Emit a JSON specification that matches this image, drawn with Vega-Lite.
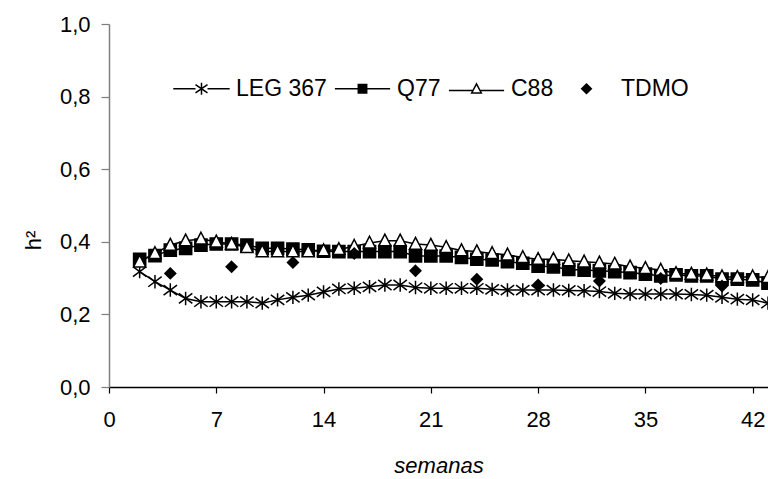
{
  "$schema": "https://vega.github.io/schema/vega-lite/v6.json",
  "width": 659,
  "height": 363,
  "autosize": {"type": "none"},
  "padding": {"left": 109, "top": 24, "right": 0, "bottom": 92},
  "background": "white",
  "config": {"view": {"stroke": null}, "font": "Liberation Sans"},
  "datasets": {
    "h2": [
      {"semana": 2, "serie": "LEG 367", "h2": 0.318}, {"semana": 3, "serie": "LEG 367", "h2": 0.290}, {"semana": 4, "serie": "LEG 367", "h2": 0.267}, {"semana": 5, "serie": "LEG 367", "h2": 0.244}, {"semana": 6, "serie": "LEG 367", "h2": 0.235}, {"semana": 7, "serie": "LEG 367", "h2": 0.235}, {"semana": 8, "serie": "LEG 367", "h2": 0.235}, {"semana": 9, "serie": "LEG 367", "h2": 0.235}, {"semana": 10, "serie": "LEG 367", "h2": 0.231}, {"semana": 11, "serie": "LEG 367", "h2": 0.240}, {"semana": 12, "serie": "LEG 367", "h2": 0.247}, {"semana": 13, "serie": "LEG 367", "h2": 0.253}, {"semana": 14, "serie": "LEG 367", "h2": 0.262}, {"semana": 15, "serie": "LEG 367", "h2": 0.270}, {"semana": 16, "serie": "LEG 367", "h2": 0.272}, {"semana": 17, "serie": "LEG 367", "h2": 0.276}, {"semana": 18, "serie": "LEG 367", "h2": 0.281}, {"semana": 19, "serie": "LEG 367", "h2": 0.281}, {"semana": 20, "serie": "LEG 367", "h2": 0.274}, {"semana": 21, "serie": "LEG 367", "h2": 0.272}, {"semana": 22, "serie": "LEG 367", "h2": 0.272}, {"semana": 23, "serie": "LEG 367", "h2": 0.272}, {"semana": 24, "serie": "LEG 367", "h2": 0.272}, {"semana": 25, "serie": "LEG 367", "h2": 0.269}, {"semana": 26, "serie": "LEG 367", "h2": 0.267}, {"semana": 27, "serie": "LEG 367", "h2": 0.267}, {"semana": 28, "serie": "LEG 367", "h2": 0.267}, {"semana": 29, "serie": "LEG 367", "h2": 0.267}, {"semana": 30, "serie": "LEG 367", "h2": 0.266}, {"semana": 31, "serie": "LEG 367", "h2": 0.265}, {"semana": 32, "serie": "LEG 367", "h2": 0.263}, {"semana": 33, "serie": "LEG 367", "h2": 0.258}, {"semana": 34, "serie": "LEG 367", "h2": 0.256}, {"semana": 35, "serie": "LEG 367", "h2": 0.256}, {"semana": 36, "serie": "LEG 367", "h2": 0.256}, {"semana": 37, "serie": "LEG 367", "h2": 0.256}, {"semana": 38, "serie": "LEG 367", "h2": 0.255}, {"semana": 39, "serie": "LEG 367", "h2": 0.253}, {"semana": 40, "serie": "LEG 367", "h2": 0.247}, {"semana": 41, "serie": "LEG 367", "h2": 0.242}, {"semana": 42, "serie": "LEG 367", "h2": 0.240}, {"semana": 43, "serie": "LEG 367", "h2": 0.231},
      {"semana": 2, "serie": "Q77", "h2": 0.352}, {"semana": 3, "serie": "Q77", "h2": 0.362}, {"semana": 4, "serie": "Q77", "h2": 0.377}, {"semana": 5, "serie": "Q77", "h2": 0.382}, {"semana": 6, "serie": "Q77", "h2": 0.391}, {"semana": 7, "serie": "Q77", "h2": 0.394}, {"semana": 8, "serie": "Q77", "h2": 0.394}, {"semana": 9, "serie": "Q77", "h2": 0.391}, {"semana": 10, "serie": "Q77", "h2": 0.382}, {"semana": 11, "serie": "Q77", "h2": 0.382}, {"semana": 12, "serie": "Q77", "h2": 0.380}, {"semana": 13, "serie": "Q77", "h2": 0.378}, {"semana": 14, "serie": "Q77", "h2": 0.374}, {"semana": 15, "serie": "Q77", "h2": 0.373}, {"semana": 16, "serie": "Q77", "h2": 0.373}, {"semana": 17, "serie": "Q77", "h2": 0.373}, {"semana": 18, "serie": "Q77", "h2": 0.373}, {"semana": 19, "serie": "Q77", "h2": 0.373}, {"semana": 20, "serie": "Q77", "h2": 0.361}, {"semana": 21, "serie": "Q77", "h2": 0.361}, {"semana": 22, "serie": "Q77", "h2": 0.361}, {"semana": 23, "serie": "Q77", "h2": 0.357}, {"semana": 24, "serie": "Q77", "h2": 0.352}, {"semana": 25, "serie": "Q77", "h2": 0.350}, {"semana": 26, "serie": "Q77", "h2": 0.345}, {"semana": 27, "serie": "Q77", "h2": 0.341}, {"semana": 28, "serie": "Q77", "h2": 0.333}, {"semana": 29, "serie": "Q77", "h2": 0.331}, {"semana": 30, "serie": "Q77", "h2": 0.324}, {"semana": 31, "serie": "Q77", "h2": 0.322}, {"semana": 32, "serie": "Q77", "h2": 0.320}, {"semana": 33, "serie": "Q77", "h2": 0.318}, {"semana": 34, "serie": "Q77", "h2": 0.315}, {"semana": 35, "serie": "Q77", "h2": 0.311}, {"semana": 36, "serie": "Q77", "h2": 0.306}, {"semana": 37, "serie": "Q77", "h2": 0.309}, {"semana": 38, "serie": "Q77", "h2": 0.306}, {"semana": 39, "serie": "Q77", "h2": 0.306}, {"semana": 40, "serie": "Q77", "h2": 0.297}, {"semana": 41, "serie": "Q77", "h2": 0.297}, {"semana": 42, "serie": "Q77", "h2": 0.295}, {"semana": 43, "serie": "Q77", "h2": 0.286},
      {"semana": 2, "serie": "C88", "h2": 0.345}, {"semana": 3, "serie": "C88", "h2": 0.368}, {"semana": 4, "serie": "C88", "h2": 0.391}, {"semana": 5, "serie": "C88", "h2": 0.403}, {"semana": 6, "serie": "C88", "h2": 0.408}, {"semana": 7, "serie": "C88", "h2": 0.400}, {"semana": 8, "serie": "C88", "h2": 0.394}, {"semana": 9, "serie": "C88", "h2": 0.385}, {"semana": 10, "serie": "C88", "h2": 0.373}, {"semana": 11, "serie": "C88", "h2": 0.373}, {"semana": 12, "serie": "C88", "h2": 0.373}, {"semana": 13, "serie": "C88", "h2": 0.373}, {"semana": 14, "serie": "C88", "h2": 0.376}, {"semana": 15, "serie": "C88", "h2": 0.379}, {"semana": 16, "serie": "C88", "h2": 0.388}, {"semana": 17, "serie": "C88", "h2": 0.397}, {"semana": 18, "serie": "C88", "h2": 0.403}, {"semana": 19, "serie": "C88", "h2": 0.403}, {"semana": 20, "serie": "C88", "h2": 0.394}, {"semana": 21, "serie": "C88", "h2": 0.391}, {"semana": 22, "serie": "C88", "h2": 0.385}, {"semana": 23, "serie": "C88", "h2": 0.376}, {"semana": 24, "serie": "C88", "h2": 0.373}, {"semana": 25, "serie": "C88", "h2": 0.368}, {"semana": 26, "serie": "C88", "h2": 0.364}, {"semana": 27, "serie": "C88", "h2": 0.357}, {"semana": 28, "serie": "C88", "h2": 0.352}, {"semana": 29, "serie": "C88", "h2": 0.352}, {"semana": 30, "serie": "C88", "h2": 0.348}, {"semana": 31, "serie": "C88", "h2": 0.345}, {"semana": 32, "serie": "C88", "h2": 0.342}, {"semana": 33, "serie": "C88", "h2": 0.339}, {"semana": 34, "serie": "C88", "h2": 0.331}, {"semana": 35, "serie": "C88", "h2": 0.327}, {"semana": 36, "serie": "C88", "h2": 0.322}, {"semana": 37, "serie": "C88", "h2": 0.313}, {"semana": 38, "serie": "C88", "h2": 0.311}, {"semana": 39, "serie": "C88", "h2": 0.309}, {"semana": 40, "serie": "C88", "h2": 0.304}, {"semana": 41, "serie": "C88", "h2": 0.302}, {"semana": 42, "serie": "C88", "h2": 0.304}, {"semana": 43, "serie": "C88", "h2": 0.302},
      {"semana": 4, "serie": "TDMO", "h2": 0.313}, {"semana": 8, "serie": "TDMO", "h2": 0.331}, {"semana": 12, "serie": "TDMO", "h2": 0.343}, {"semana": 16, "serie": "TDMO", "h2": 0.368}, {"semana": 20, "serie": "TDMO", "h2": 0.320}, {"semana": 24, "serie": "TDMO", "h2": 0.297}, {"semana": 28, "serie": "TDMO", "h2": 0.281}, {"semana": 32, "serie": "TDMO", "h2": 0.292}, {"semana": 36, "serie": "TDMO", "h2": 0.299}, {"semana": 40, "serie": "TDMO", "h2": 0.278}
    ]
  },
  "data": {"name": "h2"},
  "encoding": {
    "x": {
      "field": "semana", "type": "quantitative",
      "scale": {"domain": [0, 43], "nice": false, "zero": false},
      "axis": {
        "title": "semanas", "titleFontStyle": "italic", "titleFontWeight": "normal", "titleFontSize": 22, "titleColor": "black", "titlePadding": 25,
        "values": [0, 7, 14, 21, 28, 35, 42], "labelFontSize": 22, "labelColor": "black", "labelPadding": 16,
        "tickSize": 6, "tickColor": "black", "domainColor": "black", "domainWidth": 1.5, "tickWidth": 1.2, "grid": false, "labelFlush": false
      }
    },
    "y": {
      "field": "h2", "type": "quantitative",
      "scale": {"domain": [0, 1], "nice": false},
      "axis": {
        "title": "h²", "titleFontWeight": "normal", "titleFontSize": 22, "titleColor": "black", "titlePadding": 14, "titleY": 216,
        "values": [0, 0.2, 0.4, 0.6, 0.8, 1.0], "labelExpr": "replace(format(datum.value, '.1f'), '.', ',')",
        "labelFontSize": 22, "labelColor": "black", "labelPadding": 11,
        "tickSize": 8, "tickColor": "#7f7f7f", "domainColor": "#7f7f7f", "domainWidth": 1.5, "tickWidth": 1.2, "grid": false
      }
    }
  },
  "layer": [
    {
      "transform": [{"filter": "datum.serie != 'TDMO'"}],
      "mark": {"type": "line", "color": "black", "strokeWidth": 1.5},
      "encoding": {"detail": {"field": "serie"}}
    },
    {
      "mark": {"type": "point", "filled": false, "stroke": "black", "strokeWidth": 1.5, "opacity": 1},
      "encoding": {
        "shape": {
          "field": "serie", "legend": null,
          "scale": {
            "domain": ["LEG 367", "Q77", "C88", "TDMO"],
            "range": [
              "M0,-1V1M-1,-0.75L1,0.75M-1,0.75L1,-0.75",
              "M-0.95,-0.95H0.95V0.95H-0.95Z",
              "M0,-1.1L1,0.85L-1,0.85Z",
              "M0,-0.95L0.95,0L0,0.95L-0.95,0Z"
            ]
          }
        },
        "fill": {
          "field": "serie", "legend": null,
          "scale": {"domain": ["LEG 367", "Q77", "C88", "TDMO"], "range": ["transparent", "black", "white", "black"]}
        },
        "size": {
          "field": "serie", "legend": null,
          "scale": {"domain": ["LEG 367", "Q77", "C88", "TDMO"], "range": [180, 130, 144, 130]}
        }
      }
    },
    {
      "transform": [{"filter": "false"}],
      "mark": {"type": "point", "filled": false, "strokeWidth": 1.5, "size": 144, "opacity": 1},
      "encoding": {
        "stroke": {
          "field": "serie",
          "scale": {"domain": ["LEG 367", "Q77", "C88", "TDMO"], "range": ["black", "black", "black", "black"]},
          "legend": {
            "title": null, "orient": "none", "legendX": 81, "legendY": 53, "direction": "horizontal",
            "symbolSize": 144, "symbolStrokeWidth": 1.5,
            "labelFontSize": 23, "labelColor": "black", "labelOffset": 23, "columnPadding": 4, "padding": 0
          }
        },
        "fill": {
          "field": "serie",
          "scale": {"domain": ["LEG 367", "Q77", "C88", "TDMO"], "range": ["transparent", "black", "white", "black"]},
          "legend": {
            "title": null, "orient": "none", "legendX": 81, "legendY": 53, "direction": "horizontal",
            "symbolSize": 144, "symbolStrokeWidth": 1.5,
            "labelFontSize": 23, "labelColor": "black", "labelOffset": 23, "columnPadding": 4, "padding": 0
          }
        },
        "shape": {
          "field": "serie",
          "scale": {
            "domain": ["LEG 367", "Q77", "C88", "TDMO"],
            "range": [
              "M-4.7,0H-1M1,0H4.7M0,-1V1M-1,-0.7L1,0.7M-1,0.7L1,-0.7",
              "M-4.6,0H-0.7M0.7,0H4.6M-0.7,-0.7H0.7V0.7H-0.7Z",
              "M-4.6,0.3H-0.6M0.6,0.3H4.6M0,-0.8L0.8,0.7L-0.8,0.7Z",
              "M-4.1,0M0,-0.8L0.8,0L0,0.8L-0.8,0Z"
            ]
          },
          "legend": {
            "title": null, "orient": "none", "legendX": 81, "legendY": 53, "direction": "horizontal",
            "symbolSize": 144, "symbolStrokeWidth": 1.5,
            "labelFontSize": 23, "labelColor": "black", "labelOffset": 23, "columnPadding": 4, "padding": 0
          }
        }
      }
    }
  ],
  "resolve": {"scale": {"shape": "independent", "fill": "independent", "size": "independent", "stroke": "independent"}, "legend": {"shape": "independent", "fill": "independent", "stroke": "independent"}}
}
